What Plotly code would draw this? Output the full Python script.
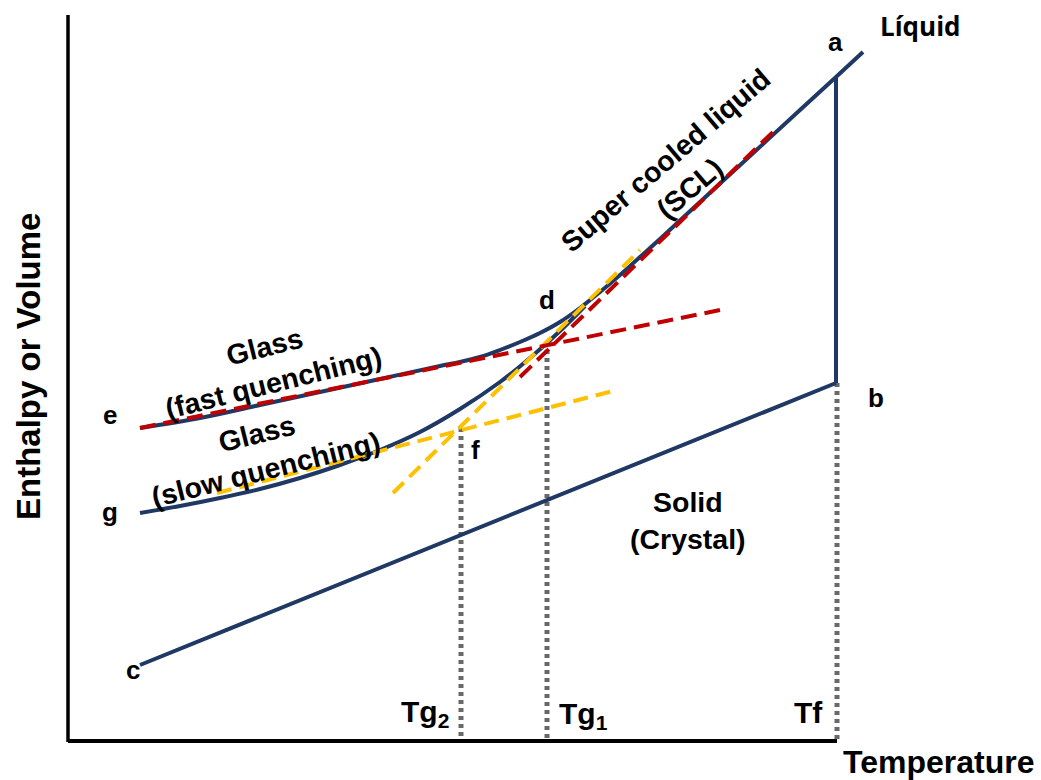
import plotly.graph_objects as go

# ---- schematic data (temperature -> x, enthalpy/volume -> y, in chart units; y grows downward) ----
upper_x = [140, 200, 260, 320, 380, 440, 460, 480, 500, 520, 540, 560, 580, 600, 620, 640, 660, 700, 750, 800, 836, 863]
upper_y = [428, 418, 405, 392, 379, 366, 362, 357, 350, 342, 333, 322, 308, 292, 275, 257, 239, 202, 156, 110, 77, 52]

lower_x = [140, 180, 220, 260, 300, 340, 380, 420, 460, 500, 530, 560, 585]
lower_y = [513, 506, 498, 489, 478, 465, 450, 432, 409, 382, 358, 331, 306]

crystal_x = [140, 836]
crystal_y = [665, 383]

melt_x = [836, 836]
melt_y = [77, 383]

red_glass_x = [140, 720]
red_glass_y = [428, 310]
red_liq_x = [520, 775]
red_liq_y = [377, 130]

yel_glass_x = [217, 617]
yel_glass_y = [493, 390]
yel_liq_x = [393, 640]
yel_liq_y = [493, 250]

tg2_x = [461, 461]; tg2_y = [428, 740]
tg1_x = [547, 547]; tg1_y = [350, 740]
tf_x = [837, 837]; tf_y = [383, 740]

yaxis_x = [68, 68]; yaxis_y = [15, 742]
xaxis_x = [68, 837]; xaxis_y = [741, 741]

point_labels = ["a", "b", "c", "d", "e", "f", "g"]
point_lx = [835, 876, 133, 547, 110, 475, 110]
point_ly = [42, 398, 670, 300, 415, 450, 512]

temp_labels = ["Tg<sub>2</sub>", "Tg<sub>1</sub>", "Tf"]
temp_lx = [425, 583, 808]
temp_ly = [713, 715, 712]

NAVY = "#1F3864"
RED = "#C00000"
YEL = "#FFC000"
GREY = "#696969"

fig = go.Figure()

def line(x, y, color, width, dash="solid", shape="linear"):
    fig.add_trace(go.Scatter(x=x, y=y, mode="lines",
                             line=dict(color=color, width=width, dash=dash, shape=shape),
                             hoverinfo="skip", showlegend=False))

# axes
line(yaxis_x, yaxis_y, "black", 3.5)
line(xaxis_x, xaxis_y, "black", 4)

# dotted temperature markers
for xx, yy in [(tg2_x, tg2_y), (tg1_x, tg1_y), (tf_x, tf_y)]:
    line(xx, yy, GREY, 5, "4px,4px")

# main curves
line(crystal_x, crystal_y, NAVY, 4)
line(melt_x, melt_y, NAVY, 4)
line(lower_x, lower_y, NAVY, 4, shape="spline")
line(upper_x, upper_y, NAVY, 4, shape="spline")

# tangents
line(yel_glass_x, yel_glass_y, YEL, 4, "15px,8px")
line(yel_liq_x, yel_liq_y, YEL, 4, "15px,8px")
line(red_glass_x, red_glass_y, RED, 4, "16px,8px")
line(red_liq_x, red_liq_y, RED, 4, "16px,8px")

ARIAL = "Liberation Sans, Arial, sans-serif"

def note(text, x, y, size, angle=0, family=ARIAL, align="center"):
    fig.add_annotation(x=x, y=y, xref="x", yref="y", text=text, showarrow=False,
                       textangle=angle, align=align,
                       font=dict(family=family, size=size, color="black", weight="bold"))

for t, x, y in zip(point_labels, point_lx, point_ly):
    note(t, x, y, 26)

for t, x, y in zip(temp_labels, temp_lx, temp_ly):
    note(t, x, y, 30)

note("Líquid", 920, 26, 26, family="Open Sans, Noto Sans, sans-serif")
note("Glass<br>(fast quenching)", 269, 364, 28.5, angle=-14)
note("Glass<br>(slow quenching)", 261, 451, 28.5, angle=-14)
note("Super cooled liquid<br>(SCL)", 677, 174, 28.5, angle=-40.5)
note("Solid<br>(Crystal)", 688, 520, 28.5)
note("Temperature", 938, 762, 32)
note("Enthalpy or Volume", 28, 367, 33, angle=-90)

fig.update_layout(
    width=1041, height=780,
    margin=dict(l=0, r=0, t=0, b=0),
    paper_bgcolor="white", plot_bgcolor="white",
    xaxis=dict(range=[0, 1041], visible=False, fixedrange=True),
    yaxis=dict(range=[780, 0], visible=False, fixedrange=True),
    showlegend=False,
)

fig.write_html("out.html")
